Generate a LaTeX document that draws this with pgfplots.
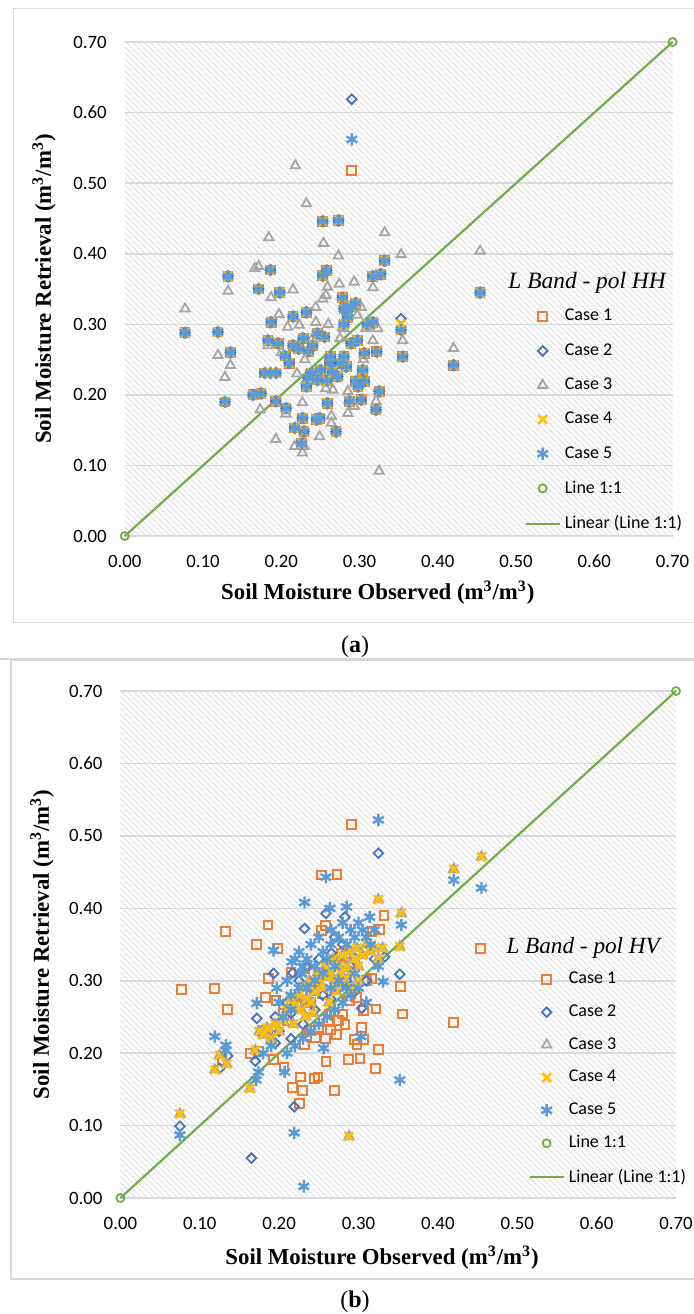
\documentclass[border=0pt]{standalone}
\usepackage{fontspec}
\setmainfont{Carlito}
\newfontfamily\serif{Liberation Serif}
\usepackage{pgfplots}
\pgfplotsset{compat=1.18}
\usepackage{pgfplotstable}
\usetikzlibrary{patterns}

\definecolor{c1}{HTML}{ED7D31}
\definecolor{c2}{HTML}{4472C4}
\definecolor{c3}{HTML}{A5A5A5}
\definecolor{c4}{HTML}{FFC000}
\definecolor{c5}{HTML}{5B9BD5}
\definecolor{c6}{HTML}{70AD47}
\definecolor{gridc}{HTML}{D9D9D9}

% Case 1 (same in both panels)
\pgfplotstableread{
x y
0.077 0.288
0.119 0.289
0.132 0.368
0.135 0.260
0.128 0.190
0.164 0.200
0.174 0.202
0.171 0.350
0.186 0.377
0.198 0.345
0.179 0.231
0.186 0.231
0.193 0.231
0.187 0.303
0.183 0.277
0.196 0.273
0.193 0.191
0.206 0.181
0.215 0.311
0.232 0.317
0.227 0.167
0.217 0.153
0.229 0.148
0.249 0.167
0.259 0.188
0.270 0.148
0.234 0.224
0.238 0.231
0.246 0.221
0.246 0.287
0.255 0.282
0.253 0.446
0.273 0.447
0.253 0.369
0.258 0.376
0.278 0.338
0.280 0.322
0.332 0.390
0.317 0.368
0.327 0.371
0.454 0.345
0.283 0.320
0.317 0.303
0.353 0.292
0.420 0.242
0.355 0.254
0.306 0.259
0.322 0.261
0.289 0.273
0.297 0.277
0.280 0.254
0.283 0.240
0.272 0.226
0.304 0.235
0.306 0.219
0.295 0.219
0.325 0.205
0.302 0.193
0.287 0.191
0.321 0.179
0.263 0.254
0.245 0.165
0.205 0.255
0.210 0.245
0.215 0.270
0.222 0.265
0.228 0.280
0.235 0.262
0.240 0.270
0.250 0.235
0.258 0.220
0.265 0.232
0.275 0.245
0.280 0.300
0.285 0.310
0.290 0.325
0.295 0.330
0.298 0.212
0.310 0.300
0.226 0.131
0.232 0.212
0.262 0.245
}\caseone

% Case 3, panel (a)
\pgfplotstableread{
x y
0.077 0.322
0.119 0.256
0.135 0.242
0.128 0.225
0.132 0.347
0.166 0.379
0.171 0.382
0.184 0.423
0.187 0.338
0.197 0.314
0.215 0.349
0.208 0.296
0.223 0.299
0.244 0.303
0.244 0.324
0.232 0.471
0.218 0.525
0.254 0.415
0.253 0.336
0.257 0.341
0.259 0.353
0.273 0.397
0.274 0.357
0.278 0.296
0.293 0.360
0.302 0.324
0.297 0.313
0.332 0.430
0.353 0.399
0.454 0.404
0.317 0.352
0.280 0.294
0.323 0.294
0.308 0.294
0.317 0.277
0.355 0.277
0.420 0.266
0.173 0.179
0.206 0.173
0.227 0.189
0.193 0.137
0.217 0.127
0.229 0.127
0.227 0.118
0.249 0.141
0.257 0.209
0.266 0.207
0.264 0.160
0.264 0.170
0.285 0.174
0.293 0.184
0.321 0.191
0.325 0.092
0.183 0.270
0.200 0.260
0.230 0.250
0.240 0.280
0.275 0.280
0.285 0.205
0.305 0.250
0.220 0.230
0.260 0.300
}\casethreeA

% Case 2, panel (b)
\pgfplotstableread{
x y
0.075 0.099
0.125 0.179
0.135 0.196
0.165 0.055
0.170 0.189
0.172 0.248
0.193 0.310
0.195 0.214
0.195 0.250
0.217 0.311
0.219 0.126
0.232 0.372
0.259 0.393
0.266 0.338
0.283 0.388
0.325 0.476
0.352 0.309
0.333 0.333
0.304 0.262
0.210 0.270
0.225 0.300
0.240 0.290
0.250 0.330
0.260 0.310
0.270 0.360
0.280 0.350
0.290 0.320
0.300 0.340
0.310 0.300
0.320 0.330
0.245 0.260
0.255 0.280
0.265 0.275
0.230 0.240
0.275 0.290
0.285 0.300
0.295 0.285
0.200 0.230
0.215 0.255
0.235 0.320
0.215 0.220
}\casetwoB

% Case 4, panel (b) (Case 3 lies under it)
\pgfplotstableread{
x y
0.075 0.116
0.119 0.177
0.125 0.197
0.134 0.185
0.163 0.151
0.170 0.204
0.175 0.230
0.180 0.225
0.185 0.235
0.190 0.220
0.195 0.240
0.200 0.230
0.205 0.245
0.210 0.260
0.215 0.275
0.220 0.265
0.225 0.280
0.228 0.260
0.230 0.290
0.235 0.275
0.238 0.300
0.240 0.270
0.245 0.285
0.248 0.310
0.250 0.300
0.255 0.290
0.258 0.320
0.260 0.305
0.265 0.310
0.268 0.330
0.270 0.300
0.275 0.320
0.278 0.310
0.280 0.335
0.285 0.320
0.288 0.340
0.290 0.310
0.295 0.330
0.298 0.345
0.300 0.320
0.305 0.335
0.310 0.350
0.315 0.340
0.320 0.345
0.325 0.330
0.330 0.345
0.288 0.085
0.325 0.412
0.354 0.393
0.352 0.347
0.420 0.454
0.455 0.471
0.263 0.270
0.243 0.255
0.233 0.250
0.218 0.240
0.272 0.285
0.282 0.300
0.300 0.300
0.292 0.290
}\casefourB

% Case 5, panel (b)
\pgfplotstableread{
x y
0.075 0.087
0.119 0.223
0.133 0.211
0.133 0.204
0.171 0.163
0.174 0.174
0.172 0.269
0.193 0.342
0.197 0.290
0.207 0.174
0.216 0.326
0.219 0.090
0.230 0.319
0.232 0.408
0.231 0.016
0.256 0.207
0.259 0.443
0.264 0.400
0.266 0.370
0.285 0.402
0.314 0.388
0.325 0.522
0.331 0.299
0.303 0.223
0.352 0.163
0.354 0.377
0.420 0.439
0.455 0.428
0.180 0.200
0.190 0.210
0.200 0.270
0.205 0.250
0.210 0.300
0.215 0.280
0.220 0.330
0.225 0.340
0.228 0.310
0.235 0.330
0.240 0.350
0.245 0.320
0.250 0.360
0.255 0.340
0.260 0.330
0.265 0.350
0.270 0.320
0.275 0.360
0.280 0.380
0.285 0.350
0.290 0.370
0.295 0.360
0.300 0.380
0.305 0.370
0.310 0.360
0.315 0.350
0.320 0.370
0.325 0.320
0.310 0.270
0.300 0.290
0.290 0.280
0.280 0.270
0.270 0.260
0.260 0.250
0.250 0.240
0.240 0.230
0.230 0.220
0.220 0.210
0.210 0.200
0.245 0.300
0.255 0.310
0.265 0.290
0.275 0.300
0.285 0.290
0.295 0.310
0.235 0.290
0.225 0.290
0.215 0.260
}\casefiveB

\pgfplotsset{
  soil/.style={
    scale only axis,
    xmin=0, xmax=0.7, ymin=0, ymax=0.7,
    xtick={0,0.1,0.2,0.3,0.4,0.5,0.6,0.7},
    ytick={0,0.1,0.2,0.3,0.4,0.5,0.6,0.7},
    ymajorgrids, grid style={gridc, line width=0.8pt},
    axis line style={draw=none}, major tick length=0pt,
    clip=false,
    axis background/.style={fill=white, postaction={pattern=north west lines, pattern color=black!13}},
    tick label style={font=\fontsize{9.4}{11}\selectfont},
    xticklabel style={yshift=-6pt},
    yticklabel style={xshift=-5.5pt},
    /pgf/number format/fixed, /pgf/number format/fixed zerofill,
    /pgf/number format/precision=2, /pgf/number format/assume math mode=true,
    label style={font=\serif\bfseries\fontsize{11.4}{13}\selectfont},
    xlabel={Soil Moisture Observed (m\textsuperscript{3}/m\textsuperscript{3})},
    ylabel={Soil Moisture Retrieval (m\textsuperscript{3}/m\textsuperscript{3})},
    legend style={draw=none, fill=none, font=\fontsize{9}{10.5}\selectfont,
      cells={anchor=west}, anchor=north west},
  },
  s1/.style={only marks, mark=square, mark size=2.2pt, color=c1, line width=1pt},
  s2/.style={only marks, mark=square, mark options={rotate=45}, mark size=1.7pt, color=c2, line width=0.9pt},
  s3/.style={only marks, mark=triangle, mark size=2.7pt, color=c3, line width=0.9pt},
  s4/.style={only marks, mark=x, mark size=3.1pt, color=c4, line width=1.2pt},
  s5/.style={only marks, mark=asterisk, mark size=3.1pt, color=c5, line width=1.2pt},
  s6/.style={only marks, mark=o, mark size=2pt, color=c6, line width=0.9pt},
  s7/.style={no marks, color=c6, line width=1.1pt},
}

\begin{document}
\begin{tikzpicture}[x=1pt,y=1pt]
\useasboundingbox (0,0) rectangle (347,-657);
\draw[gridc, line width=0.6pt] (6.6,-4.2) rectangle (348,-311.4);
\draw[gridc, line width=0.6pt] (0,-329.5) -- (347,-329.5);
\draw[gridc, line width=0.6pt] (5.5,-330.2) rectangle (348,-639.5);
\node[font=\serif\fontsize{12}{14}\selectfont] at (177.5,-323.5) {(\textbf{a})};
\node[font=\serif\fontsize{12}{14}\selectfont] at (177.5,-651) {(\textbf{b})};

% panel (a)
\begin{axis}[soil, at={(62.4pt,-268pt)}, anchor=south west,
  width=273.9pt, height=247pt,
  xlabel style={at={(axis description cs:0.462,-0.115)}, anchor=center},
  ylabel style={at={(axis description cs:-0.1475,0.5)}, anchor=center},
  legend style={at={(axis description cs:0.718,0.476)}, row sep=5.8pt}]
\addplot[s1] table {\caseone};
\addlegendentry{Case 1}
\addplot[s1, forget plot] coordinates {(0.290,0.518)};
\addplot[s2] table {\caseone};
\addlegendentry{Case 2}
\addplot[s2, forget plot] coordinates {(0.290,0.619) (0.353,0.308)};
\addplot[s3] table {\casethreeA};
\addlegendentry{Case 3}
\addplot[s4] table {\caseone};
\addlegendentry{Case 4}
\addplot[s4, forget plot] coordinates {(0.353,0.300)};
\addplot[s5] table {\caseone};
\addlegendentry{Case 5}
\addplot[s5, forget plot] coordinates {(0.290,0.562)};
\addplot[s6] coordinates {(0,0) (0.7,0.7)};
\addlegendentry{Line 1:1}
\addplot[s7] coordinates {(0,0) (0.7,0.7)};
\addlegendentry{Linear (Line 1:1)}
\node[font=\serif\itshape\fontsize{11.7}{13}\selectfont] at (axis description cs:0.844,0.512) {L Band - pol HH};
\end{axis}

% panel (b)
\begin{axis}[soil, at={(60.2pt,-599pt)}, anchor=south west,
  width=277.8pt, height=253.5pt,
  xlabel style={at={(axis description cs:0.471,-0.118)}, anchor=center},
  ylabel style={at={(axis description cs:-0.141,0.5)}, anchor=center},
  legend style={at={(axis description cs:0.723,0.462)}, row sep=5pt}]
\addplot[s1] table {\caseone};
\addlegendentry{Case 1}
\addplot[s1, forget plot] coordinates {(0.291,0.516)};
\addplot[s2] table {\casetwoB};
\addlegendentry{Case 2}
\addplot[s3] table {\casefourB};
\addlegendentry{Case 3}
\addplot[s4] table {\casefourB};
\addlegendentry{Case 4}
\addplot[s5] table {\casefiveB};
\addlegendentry{Case 5}
\addplot[s6] coordinates {(0,0) (0.7,0.7)};
\addlegendentry{Line 1:1}
\addplot[s7] coordinates {(0,0) (0.7,0.7)};
\addlegendentry{Linear (Line 1:1)}
\node[font=\serif\itshape\fontsize{11.6}{13}\selectfont] at (axis description cs:0.833,0.493) {L Band - pol HV};
\end{axis}
\end{tikzpicture}
\end{document}
